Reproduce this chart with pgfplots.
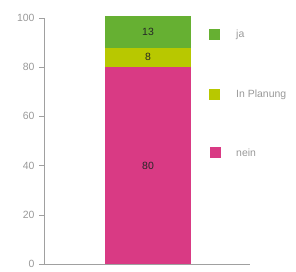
\documentclass[border=0pt]{standalone}
\usepackage{pgfplots}
\pgfplotsset{compat=1.18}
\usepackage{fontspec}
\setmainfont{Liberation Sans}
\definecolor{cja}{HTML}{66B032}
\definecolor{cplan}{HTML}{B8C800}
\definecolor{cnein}{HTML}{D93A84}
\definecolor{axgray}{HTML}{A0A0A0}
\definecolor{txtgray}{HTML}{999999}
\begin{document}
\begin{tikzpicture}[x=1bp,y=1bp]
\begin{axis}[
  at={(0,0)}, anchor=origin,
  scale only axis,
  width=206bp, height=246bp,
  xmin=0, xmax=1, ymin=0, ymax=100,
  ybar stacked, bar width=86bp,
  axis x line=bottom, axis y line=left,
  axis line style={axgray, -},
  xtick=\empty,
  ytick={0,20,...,100},
  major tick length=5bp,
  tick align=outside,
  ytick style={axgray},
  yticklabel style={txtgray, font=\fontsize{10.5}{11}\selectfont, xshift=-1bp},
  /pgf/number format/assume math mode=true,
  nodes near coords,
  nodes near coords style={font=\fontsize{10.5}{11}\selectfont, black!85},
  every node near coord/.append style={anchor=center},
  nodes near coords align={center},
  clip=false,
]
\addplot[fill=cnein, draw=none] coordinates {(0.505,80)};
\addplot[fill=cplan, draw=none] coordinates {(0.505,8)};
\addplot[fill=cja, draw=none] coordinates {(0.505,13)};
\end{axis}
% legend
\begin{scope}[font=\fontsize{10.5}{11}\selectfont]
\fill[cja] (165,224) rectangle (176,235);
\node[anchor=west, txtgray, inner sep=0] at (192,229.5) {ja};
\fill[cplan] (165,164) rectangle (176,175);
\node[anchor=west, txtgray, inner sep=0] at (192,169.5) {In Planung};
\fill[cnein] (166,106) rectangle (177,117);
\node[anchor=west, txtgray, inner sep=0] at (192,111.5) {nein};
\end{scope}
\useasboundingbox (-44,-4) rectangle (252,264);
\end{tikzpicture}
\end{document}
